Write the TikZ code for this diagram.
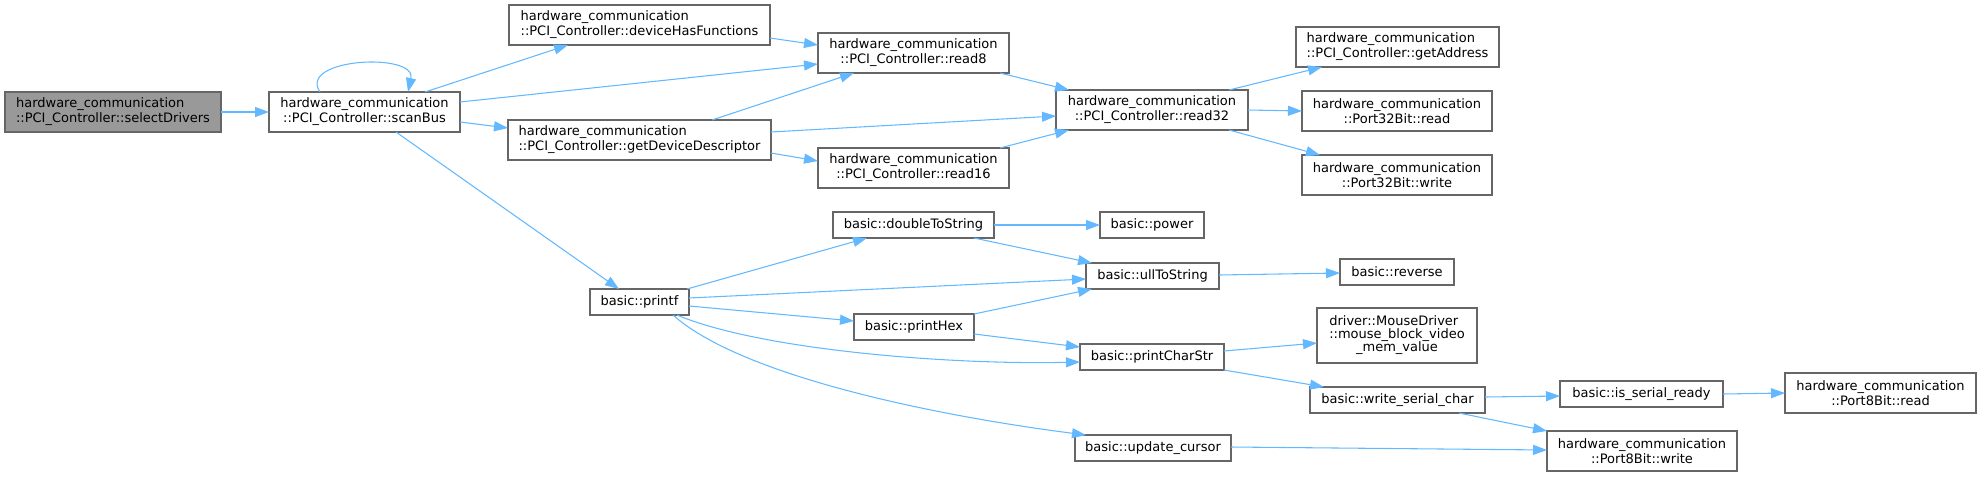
\documentclass[tikz,border=0pt]{standalone}
\usepackage{fontspec}
\setmainfont{DejaVu Sans}
\usetikzlibrary{arrows.meta,calc}
\definecolor{edgeblue}{HTML}{63B8FF}
\definecolor{nodeborder}{HTML}{666666}
\definecolor{nodegray}{HTML}{999999}
\newcommand{\fsz}{\fontsize{9.75pt}{11.25pt}\selectfont}
\begin{document}
\begin{tikzpicture}[x=0.75pt,y=-0.75pt,
  box/.style={draw=nodeborder, line width=0.8pt, inner sep=0pt, outer sep=0pt, font=\fsz, anchor=north west, fill=white, minimum height=30pt},
  box1/.style={box, minimum height=19.5pt},
  wd/.style={minimum width=#1*0.75pt},
  calls/.style={draw=edgeblue, line width=0.8pt, -{Triangle[length=10.5pt,width=7.5pt]}}]
\useasboundingbox (0,0) rectangle (1981,476);
% nodes
\node[box, fill=nodegray, wd=216, align=left] (sel) at (5,92) {hardware\_communication\\::PCI\_Controller::selectDrivers};
\node[box, wd=191, align=center] (scan) at (269,92) {hardware\_communication\\::PCI\_Controller::scanBus};
\node[box, wd=261, align=left] (dhf) at (509,5) {hardware\_communication\\::PCI\_Controller::deviceHasFunctions};
\node[box, wd=263, align=left] (gdd) at (508,120) {hardware\_communication\\::PCI\_Controller::getDeviceDescriptor};
\node[box, wd=191, align=center] (r8) at (818,33) {hardware\_communication\\::PCI\_Controller::read8};
\node[box, wd=191, align=center] (r16) at (818,148) {hardware\_communication\\::PCI\_Controller::read16};
\node[box, wd=192, align=center] (r32) at (1056,90) {hardware\_communication\\::PCI\_Controller::read32};
\node[box, wd=203, align=left] (gaddr) at (1296,27) {hardware\_communication\\::PCI\_Controller::getAddress};
\node[box, wd=190, align=center] (p32r) at (1302,91) {hardware\_communication\\::Port32Bit::read};
\node[box, wd=190, align=center] (p32w) at (1302,155) {hardware\_communication\\::Port32Bit::write};
\node[box1, wd=99] (printf) at (590,289) {basic::printf};
\node[box1, wd=161] (d2s) at (833,212) {basic::doubleToString};
\node[box1, wd=104] (power) at (1100,212) {basic::power};
\node[box1, wd=133] (ull) at (1086,263) {basic::ullToString};
\node[box1, wd=114] (rev) at (1340,259) {basic::reverse};
\node[box1, wd=120] (phex) at (854,314) {basic::printHex};
\node[box1, wd=144] (pcs) at (1080,344) {basic::printCharStr};
\node[box, wd=160, minimum height=41.25pt] (mouse) at (1317,308) {\begin{tabular}{@{}l@{}}driver::MouseDriver\\[-1.4pt]::mouse\_block\_video\\[-1.4pt]\multicolumn{1}{@{}c@{}}{\_mem\_value}\end{tabular}};
\node[box1, wd=175] (wsc) at (1310,387) {basic::write\_serial\_char};
\node[box1, wd=163] (isr) at (1560,381) {basic::is\_serial\_ready};
\node[box, wd=191, align=center] (p8r) at (1785,373) {hardware\_communication\\::Port8Bit::read};
\node[box1, wd=156] (upc) at (1075,435) {basic::update\_cursor};
\node[box, wd=190, align=center] (p8w) at (1547,431) {hardware\_communication\\::Port8Bit::write};
% edges
\draw[calls] (sel.east) -- (scan.west);
\draw[calls] ($(scan.north west)+(51,0)$) .. controls ($(scan.north west)+(28,-34)$) and ($(scan.north west)+(148,-40)$) .. ($(scan.north west)+(139,0)$);
\draw[calls] ($(scan.north west)+(156,0)$) -- ($(dhf.north west)+(59,40)$);
\draw[calls] ($(scan.north west)+(191,10)$) -- ($(r8.north west)+(0,31)$);
\draw[calls] ($(scan.north west)+(191,30)$) -- ($(gdd.north west)+(0,8)$);
\draw[calls] ($(scan.north west)+(127,40)$) -- ($(printf.north west)+(29,0)$);
\draw[calls] ($(dhf.north west)+(261,33)$) -- ($(r8.north west)+(0,12)$);
\draw[calls] ($(gdd.north west)+(204,0)$) -- ($(r8.north west)+(36,40)$);
\draw[calls] ($(gdd.north west)+(263,12)$) -- ($(r32.north west)+(0,26)$);
\draw[calls] ($(gdd.north west)+(263,33)$) -- ($(r16.north west)+(0,13)$);
\draw[calls] ($(r8.north west)+(182,40)$) -- ($(r32.north west)+(13,0)$);
\draw[calls] ($(r16.north west)+(182,0)$) -- ($(r32.north west)+(13,40)$);
\draw[calls] ($(r32.north west)+(173,0)$) -- ($(gaddr.north west)+(26,40)$);
\draw[calls] (r32.east) -- (p32r.west);
\draw[calls] ($(r32.north west)+(173,40)$) -- ($(p32w.north west)+(18,0)$);
\draw[calls] ($(printf.north west)+(97,0)$) -- ($(d2s.north west)+(34,26)$);
\draw[calls] ($(printf.north west)+(99,9)$) -- ($(ull.north west)+(0,16)$);
\draw[calls] ($(printf.north west)+(99,17)$) -- ($(phex.north west)+(0,7)$);
\draw[calls] ($(printf.north west)+(87,26)$) .. controls ($(printf.north west)+(170,61)$) and ($(pcs.north west)+(-130,21)$) .. ($(pcs.north west)+(0,18)$);
\draw[calls] ($(printf.north west)+(83,26)$) .. controls ($(printf.north west)+(150,86)$) and ($(upc.north west)+(-145,-20)$) .. ($(upc.north west)+(11,0)$);
\draw[calls] (d2s.east) -- (power.west);
\draw[calls] ($(d2s.north west)+(141,26)$) -- ($(ull.north west)+(6,0)$);
\draw[calls] ($(phex.north west)+(120,0)$) -- ($(ull.north west)+(6,26)$);
\draw[calls] ($(phex.north west)+(120,20)$) -- ($(pcs.north west)+(0,3)$);
\draw[calls] ($(ull.north west)+(133,12)$) -- ($(rev.north west)+(0,14)$);
\draw[calls] ($(pcs.north west)+(144,7)$) -- ($(mouse.north west)+(0,35)$);
\draw[calls] ($(pcs.north west)+(144,26)$) -- ($(wsc.north west)+(14,0)$);
\draw[calls] ($(wsc.north west)+(175,10)$) -- ($(isr.north west)+(0,15)$);
\draw[calls] ($(wsc.north west)+(149,26)$) -- (p8w.north west);
\draw[calls] (isr.east) -- (p8r.west);
\draw[calls] ($(upc.north west)+(156,12)$) -- ($(p8w.north west)+(0,19)$);
\end{tikzpicture}
\end{document}
